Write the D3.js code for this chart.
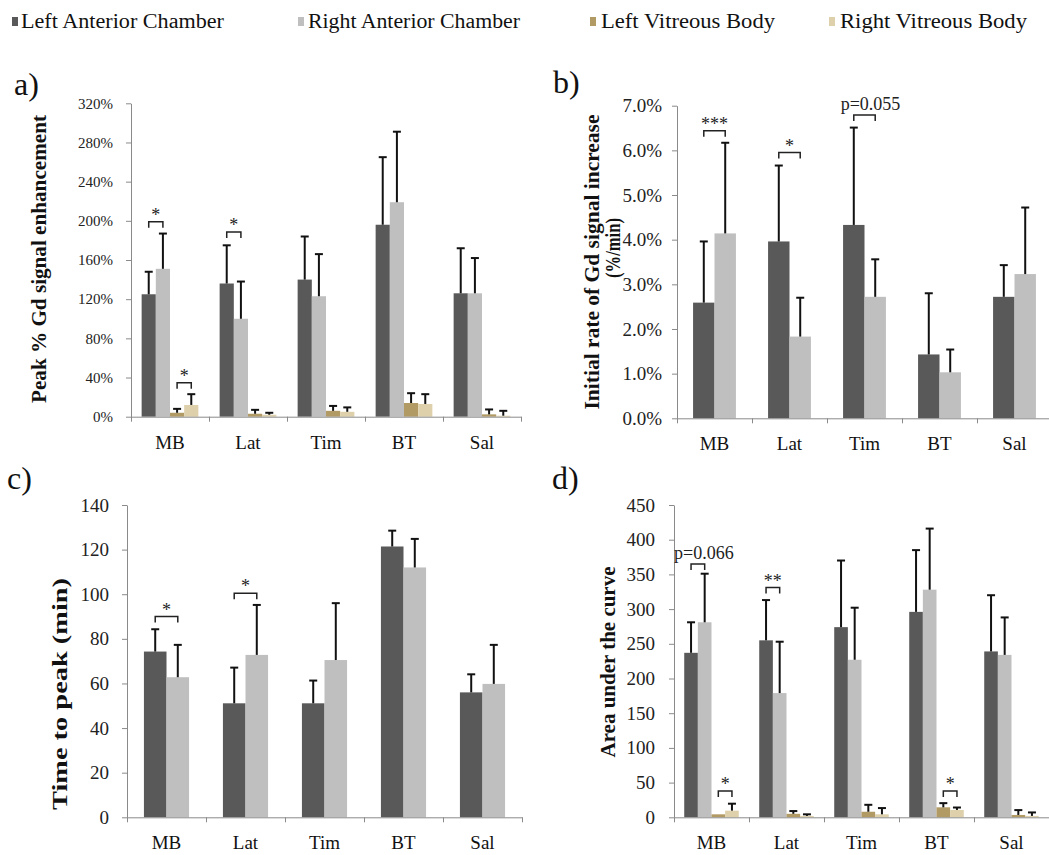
<!DOCTYPE html>
<html>
<head>
<meta charset="utf-8">
<script src="https://cdn.jsdelivr.net/npm/d3@7"></script>
<style>
  body { margin: 0; background: #fff; }
  svg text { font-family: "Liberation Serif", "Times New Roman", Times, serif; }
</style>
</head>
<body>
<div id="chart"></div>
<script>
// categories and series
const categories = ['MB', 'Lat', 'Tim', 'BT', 'Sal'];
const seriesNames = ['Left Anterior Chamber', 'Right Anterior Chamber', 'Left Vitreous Body', 'Right Vitreous Body'];

// a) peak % Gd signal enhancement (mean, SD)
const peakLAC = [125, 136, 140, 196, 126];
const peakLACErr = [23, 39, 44, 69, 46];
const peakRAC = [151, 100, 123, 219, 126];
const peakRACErr = [36, 38, 43, 72, 36];
const peakLVB = [4, 3, 6, 14, 2.4];
const peakLVBErr = [4, 4, 5, 10, 5];
const peakRVB = [12, 2, 5, 13, 1];
const peakRVBErr = [11, 2, 4.5, 10, 5];

// b) initial rate of Gd signal increase (%/min)
const rateLAC = [2.59, 3.96, 4.33, 1.43, 2.72];
const rateLACErr = [1.37, 1.70, 2.18, 1.37, 0.71];
const rateRAC = [4.14, 1.83, 2.72, 1.03, 3.23];
const rateRACErr = [2.03, 0.87, 0.84, 0.51, 1.49];

// c) time to peak (min)
const ttpLAC = [74.3, 51.1, 51.1, 121.4, 56];
const ttpLACErr = [10, 16, 10.2, 7.1, 8.1];
const ttpRAC = [62.8, 72.8, 70.5, 112, 59.8];
const ttpRACErr = [14.5, 22.4, 25.5, 12.8, 17.5];

// d) area under the curve
const aucLAC = [237, 255, 274, 296, 239];
const aucLACErr = [44, 58, 96, 89, 81];
const aucRAC = [281, 179, 227, 328, 234];
const aucRACErr = [70, 74, 75, 88, 54];
const aucLVB = [4.3, 5, 8, 14.4, 3.4];
const aucLVBErr = [0, 4, 10, 6, 7];
const aucRVB = [9.6, 2, 4.3, 10.6, 2];
const aucRVBErr = [10, 2.3, 9, 3.5, 5];

// significance brackets: category, series pair, bracket level (data units), label
const sigA = [
  {cat: 'MB', from: 0, to: 1, level: 199, label: '*'},
  {cat: 'Lat', from: 0, to: 1, level: 188.5, label: '*'},
  {cat: 'MB', from: 2, to: 3, level: 34.7, label: '*'}
];
const sigB = [
  {cat: 'MB', from: 0, to: 1, level: 6.44, label: '***'},
  {cat: 'Lat', from: 0, to: 1, level: 5.95, label: '*'},
  {cat: 'Tim', from: 0, to: 1, level: 6.79, label: 'p=0.055'}
];
const sigC = [
  {cat: 'MB', from: 0, to: 1, level: 90, label: '*'},
  {cat: 'Lat', from: 0, to: 1, level: 100.4, label: '*'}
];
const sigD = [
  {cat: 'MB', from: 0, to: 1, level: 365, label: 'p=0.066'},
  {cat: 'Lat', from: 0, to: 1, level: 331, label: '**'},
  {cat: 'MB', from: 2, to: 3, level: 38, label: '*'},
  {cat: 'BT', from: 2, to: 3, level: 38, label: '*'}
];

const colors = ['#595959', '#bfbfbf', '#b29a64', '#ddd0aa'];
const axisColor = '#8a8a8a';

const svg = d3.select('#chart').append('svg')
  .attr('width', 1049)
  .attr('height', 855);
svg.append('rect').attr('width', 1049).attr('height', 855).attr('fill', '#fff');

// legend
const legendPos = [{m: 12, t: 21}, {m: 298, t: 308}, {m: 590, t: 601}, {m: 829, t: 840}];
const legendLen = [203, 212, 174, 187];
const legend = svg.append('g');
seriesNames.forEach((name, i) => {
  legend.append('rect')
    .attr('x', legendPos[i].m).attr('y', 17)
    .attr('width', 6).attr('height', 9)
    .attr('fill', colors[i]);
  legend.append('text')
    .attr('x', legendPos[i].t).attr('y', 28)
    .attr('font-size', 20)
    .attr('textLength', legendLen[i])
    .attr('lengthAdjust', 'spacingAndGlyphs')
    .attr('fill', '#111')
    .text(name);
});

function drawPanel(p){
  const g = svg.append('g');
  const x = d3.scaleBand().domain(categories).range([p.left, p.right]).padding(0);
  const y = d3.scaleLinear().domain([0, p.max]).range([p.bottom, p.top]);
  const n = p.series.length;
  const bw = x.bandwidth() / (n + 1.5);
  const xs = d3.scaleBand().domain(d3.range(n)).range([bw * 0.75, bw * 0.75 + bw * n]).padding(0);

  // bars
  p.series.forEach((s, si) => {
    g.append('g').selectAll('rect')
      .data(s.values)
      .enter().append('rect')
        .attr('x', (d, i) => x(categories[i]) + xs(si))
        .attr('y', d => y(d))
        .attr('width', xs.bandwidth())
        .attr('height', d => y(0) - y(d))
        .attr('fill', colors[si]);
  });

  // x axis: ticks on category boundaries
  const xi = d3.scaleLinear().domain([0, categories.length]).range([p.left, p.right]);
  g.append('g')
    .attr('transform', `translate(0,${p.bottom})`)
    .call(d3.axisBottom(xi).tickValues(d3.range(categories.length + 1)).tickFormat('').tickSize(5).tickSizeOuter(0))
    .call(g => g.selectAll('line, path').attr('stroke', axisColor));
  g.append('g').selectAll('text')
    .data(categories)
    .enter().append('text')
      .attr('x', d => x(d) + x.bandwidth() / 2)
      .attr('y', p.bottom + 32)
      .attr('text-anchor', 'middle')
      .attr('font-size', 19)
      .attr('fill', '#111')
      .text(d => d);

  // y axis
  g.append('g')
    .attr('transform', `translate(${p.left},0)`)
    .call(d3.axisLeft(y).tickValues(d3.range(0, p.max + p.step / 2, p.step)).tickFormat(p.fmt).tickSize(5).tickSizeOuter(0).tickPadding(p.tickPad))
    .call(g => g.selectAll('line, path').attr('stroke', axisColor))
    .call(g => g.selectAll('.tick text')
                .attr('font-size', p.tickFont)
                .attr('fill', '#222'));

  // error bars (upper only)
  p.series.forEach((s, si) => {
    const eg = g.append('g').attr('stroke', '#111').attr('stroke-width', 2);
    s.values.forEach((v, i) => {
      if (!s.errors[i]) return;
      const cx = x(categories[i]) + xs(si) + xs.bandwidth() / 2;
      const top = y(v + s.errors[i]);
      eg.append('line').attr('x1', cx).attr('x2', cx).attr('y1', y(v)).attr('y2', top);
      eg.append('line').attr('x1', cx - 4).attr('x2', cx + 4).attr('y1', top).attr('y2', top);
    });
  });

  // significance brackets
  const sg = g.append('g');
  p.sig.forEach(s => {
    const x1 = x(s.cat) + xs(s.from) + xs.bandwidth() / 2;
    const x2 = x(s.cat) + xs(s.to) + xs.bandwidth() / 2;
    const yy = y(s.level);
    const isP = s.label[0] === 'p';
    sg.append('path')
      .attr('d', `M${x1},${yy + 6}V${yy}H${x2}V${yy + 6}`)
      .attr('fill', 'none')
      .attr('stroke', '#222')
      .attr('stroke-width', 1.5);
    sg.append('text')
      .attr('x', (x1 + x2) / 2 + (isP ? 6 : 0))
      .attr('y', isP ? yy - 5 : yy - 1)
      .attr('text-anchor', 'middle')
      .attr('font-size', 18)
      .attr('fill', '#222')
      .text(s.label);
  });

  // axis titles
  p.titles.forEach(t => {
    const tt = g.append('text')
      .attr('transform', `translate(${t.x},${t.y}) rotate(-90)`)
      .attr('text-anchor', 'middle')
      .attr('dominant-baseline', 'middle')
      .attr('font-size', t.size || 20)
      .attr('font-weight', 'bold')
      .attr('fill', '#111')
      .text(t.text);
    if (t.len) tt.attr('textLength', t.len).attr('lengthAdjust', 'spacingAndGlyphs');
  });

  // panel letter
  g.append('text')
    .attr('x', p.labelX).attr('y', p.labelY)
    .attr('font-size', 32)
    .attr('fill', '#111')
    .text(p.label);
}

drawPanel({
  left: 131, right: 521, top: 103.3, bottom: 416.7, max: 320, step: 40,
  fmt: d => d + '%', tickFont: 15, tickPad: 13,
  series: [
    {values: peakLAC, errors: peakLACErr},
    {values: peakRAC, errors: peakRACErr},
    {values: peakLVB, errors: peakLVBErr},
    {values: peakRVB, errors: peakRVBErr}
  ],
  sig: sigA,
  titles: [{text: 'Peak % Gd signal enhancement', x: 41, y: 259, len: 288}],
  label: 'a)', labelX: 14, labelY: 95
});

drawPanel({
  left: 677, right: 1052, top: 105.7, bottom: 418.3, max: 7, step: 1,
  fmt: d => d.toFixed(1) + '%', tickFont: 19, tickPad: 10,
  series: [
    {values: rateLAC, errors: rateLACErr},
    {values: rateRAC, errors: rateRACErr}
  ],
  sig: sigB,
  titles: [
    {text: 'Initial rate of Gd signal increase', x: 594, y: 262, len: 295},
    {text: '(%/min)', x: 615, y: 248, size: 20, len: 60}
  ],
  label: 'b)', labelX: 553, labelY: 93
});

drawPanel({
  left: 127, right: 522, top: 505, bottom: 817.3, max: 140, step: 20,
  fmt: d => d, tickFont: 19, tickPad: 13,
  series: [
    {values: ttpLAC, errors: ttpLACErr},
    {values: ttpRAC, errors: ttpRACErr}
  ],
  sig: sigC,
  titles: [{text: 'Time to peak (min)', x: 62, y: 694, len: 232}],
  label: 'c)', labelX: 7, labelY: 489
});

drawPanel({
  left: 674, right: 1049, top: 505, bottom: 817.3, max: 450, step: 50,
  fmt: d => d, tickFont: 19, tickPad: 14,
  series: [
    {values: aucLAC, errors: aucLACErr},
    {values: aucRAC, errors: aucRACErr},
    {values: aucLVB, errors: aucLVBErr},
    {values: aucRVB, errors: aucRVBErr}
  ],
  sig: sigD,
  titles: [{text: 'Area under the curve', x: 610, y: 662, len: 191}],
  label: 'd)', labelX: 552, labelY: 489
});
</script>
</body>
</html>
